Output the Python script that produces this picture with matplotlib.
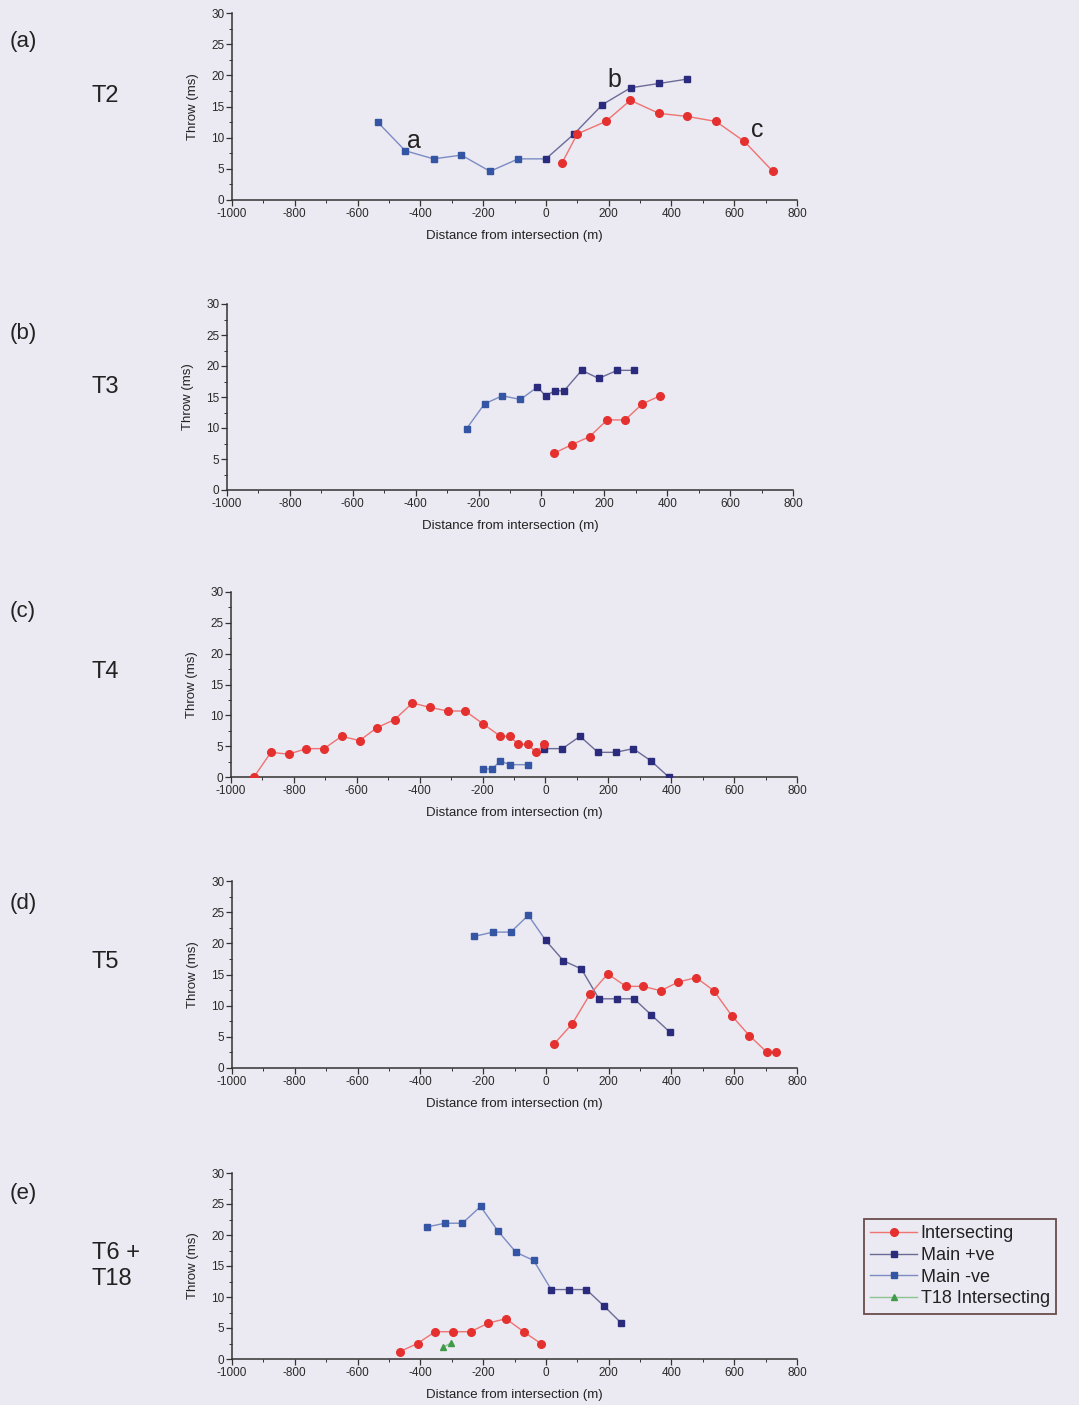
"""
Fault throw vs distance from intersection, panels (a)-(e)
"""
import matplotlib
matplotlib.use('Agg')
import matplotlib.pyplot as plt
from matplotlib.lines import Line2D
from matplotlib.ticker import MultipleLocator

plt.rcParams['font.family'] = ['Liberation Sans', 'DejaVu Sans']
plt.rcParams['axes.unicode_minus'] = False

# ── Data (distance m, throw ms) ─────────────────────────────────
# (a) T2
a_neg_x = [-536, -448, -358, -269, -178, -88]
a_neg_y = [12.5, 7.9, 6.6, 7.2, 4.6, 6.6]
a_pos_x = [0, 90, 180, 270, 361, 451]
a_pos_y = [6.6, 10.6, 15.3, 18.0, 18.7, 19.4]
a_int_x = [51, 100, 191, 269, 360, 451, 542, 632, 723]
a_int_y = [5.9, 10.6, 12.6, 16.0, 13.9, 13.4, 12.6, 9.4, 4.6]

# (b) T3
b_neg_x = [-238, -181, -124, -67]
b_neg_y = [9.9, 13.9, 15.2, 14.6]
b_pos_x = [-13, 13, 43, 72, 128, 182, 241, 295]
b_pos_y = [16.6, 15.2, 16.0, 16.0, 19.3, 18.0, 19.3, 19.3]
b_int_x = [39, 96, 153, 209, 266, 321, 378]
b_int_y = [5.9, 7.3, 8.6, 11.3, 11.3, 13.9, 15.2]

# (c) T4
c_neg_x = [-198, -170, -143, -114, -57]
c_neg_y = [1.3, 1.3, 2.6, 2.0, 2.0]
c_pos_x = [-4, 54, 110, 167, 223, 279, 336, 392]
c_pos_y = [4.6, 4.6, 6.6, 4.0, 4.0, 4.6, 2.6, 0.0]
c_int_x = [-927, -873, -817, -760, -704, -648, -591, -536, -480, -423,
           -368, -311, -255, -198, -143, -114, -86, -57, -30, -4]
c_int_y = [0.0, 4.0, 3.7, 4.6, 4.6, 6.6, 5.9, 8.0, 9.3, 12.0,
           11.3, 10.7, 10.7, 8.6, 6.6, 6.6, 5.3, 5.3, 4.0, 5.3]

# (d) T5
d_neg_x = [-229, -169, -112, -56]
d_neg_y = [21.1, 21.8, 21.8, 24.5]
d_pos_x = [-1, 56, 113, 169, 226, 281, 336, 394]
d_pos_y = [20.5, 17.2, 15.9, 11.1, 11.1, 11.1, 8.5, 5.8]
d_int_x = [27, 84, 140, 197, 255, 309, 366, 422, 479, 535, 592, 648, 705, 732]
d_int_y = [3.9, 7.1, 11.8, 15.1, 13.1, 13.1, 12.4, 13.8, 14.5, 12.4, 8.4, 5.2, 2.5, 2.5]

# (e) T6 + T18
e_neg_x = [-379, -321, -266, -208, -152, -95, -39]
e_neg_y = [21.3, 21.9, 21.9, 24.6, 20.6, 17.2, 15.9]
e_pos_x = [17, 73, 129, 186, 240]
e_pos_y = [11.2, 11.2, 11.2, 8.5, 5.8]
e_int_x = [-465, -409, -353, -297, -240, -183, -127, -71, -16]
e_int_y = [1.2, 2.5, 4.4, 4.4, 4.4, 5.8, 6.5, 4.4, 2.5]
e_t18_x = [-327, -301]
e_t18_y = [1.9, 2.6]

panels = [
    ('(a)', 'T2', a_neg_x, a_neg_y, a_pos_x, a_pos_y, a_int_x, a_int_y, True),
    ('(b)', 'T3', b_neg_x, b_neg_y, b_pos_x, b_pos_y, b_int_x, b_int_y, True),
    ('(c)', 'T4', c_neg_x, c_neg_y, c_pos_x, c_pos_y, c_int_x, c_int_y, False),
    ('(d)', 'T5', d_neg_x, d_neg_y, d_pos_x, d_pos_y, d_int_x, d_int_y, True),
    ('(e)', 'T6 +\nT18', e_neg_x, e_neg_y, e_pos_x, e_pos_y, e_int_x, e_int_y, True),
]

# ── Style ───────────────────────────────────────────────────────
BG       = '#ebe9f1'
AXIS     = '#333333'
RED      = '#e4312f'
RED_LN   = '#f07272'
NAVY     = '#2b2b7e'
NAVY_LN  = '#6b6b98'
BLUE     = '#3454a4'
BLUE_LN  = '#7b8cc4'
GREEN    = '#3f9a4a'
GREEN_LN = '#8cc48f'

W, H = 1079, 1405
fig = plt.figure(figsize=(W / 100, H / 100), dpi=100, facecolor=BG)

# axes boxes in pixels: left, right, y of 0, y of 30
boxes = [(232, 797, 200, 13), (227, 793, 490, 304), (231, 797, 777, 592),
         (232, 797, 1068, 881), (232, 797, 1359, 1173)]
panel_lab_y = [42, 333, 612, 903, 1194]
name_y = [96, 387, 672, 962, 1266]

axes = []
for (lab, name, nx, ny, px, py, ix, iy, join), (l, r, y0, y30), ly, ty in zip(
        panels, boxes, panel_lab_y, name_y):
    ax = fig.add_axes([l / W, 1 - y0 / H, (r - l) / W, (y0 - y30) / H])
    ax.set_facecolor('none')
    ax.set_xlim(-1000, 800)
    ax.set_ylim(0, 30)
    for s in ['top', 'right']:
        ax.spines[s].set_visible(False)
    for s in ['left', 'bottom']:
        ax.spines[s].set_color(AXIS)
        ax.spines[s].set_linewidth(1.1)
    ax.xaxis.set_major_locator(MultipleLocator(200))
    ax.xaxis.set_minor_locator(MultipleLocator(100))
    ax.yaxis.set_major_locator(MultipleLocator(5))
    ax.yaxis.set_minor_locator(MultipleLocator(2.5))
    ax.tick_params(which='major', length=4, width=0.9, color=AXIS,
                   labelsize=8.5, labelcolor='#2a2a2a', pad=1.5)
    ax.tick_params(which='minor', length=2, width=0.7, color=AXIS)
    ax.set_xlabel('Distance from intersection (m)', fontsize=9.5, color='#222222')
    ax.set_ylabel('Throw (ms)', fontsize=9.5, color='#222222')
    ax.xaxis.set_label_coords(0.5, -30 / (y0 - y30))
    ax.yaxis.set_label_coords(-33 / (r - l), 0.5)

    # main fault, -ve then +ve side
    if join:
        ax.plot(nx + [px[0]], ny + [py[0]], color=BLUE_LN, lw=1.0, zorder=2)
    else:
        ax.plot(nx, ny, color=BLUE_LN, lw=1.0, zorder=2)
    ax.plot(nx, ny, ls='none', marker='s', ms=5, color=BLUE, zorder=3)
    ax.plot(px, py, color=NAVY_LN, lw=1.0, marker='s', ms=5,
            markerfacecolor=NAVY, markeredgecolor=NAVY, zorder=3)
    # intersecting fault
    ax.plot(ix, iy, color=RED_LN, lw=1.0, marker='o', ms=5.5,
            markerfacecolor=RED, markeredgecolor=RED, zorder=4)

    fig.text(10 / W, 1 - ly / H, lab, fontsize=16, color='#222222',
             ha='left', va='center')
    fig.text(92 / W, 1 - ty / H, name, fontsize=17, color='#222222',
             ha='left', va='center', linespacing=1.2)
    axes.append(ax)

# T18 intersecting (panel e)
axes[4].plot(e_t18_x, e_t18_y, color=GREEN_LN, lw=1.0, marker='^', ms=5,
             markerfacecolor=GREEN, markeredgecolor=GREEN, zorder=5)

# a, b, c markers on panel (a)
axes[0].text(-420, 9.5, 'a', fontsize=18, color='#222222', ha='center', va='center')
axes[0].text(217, 19.3, 'b', fontsize=18, color='#222222', ha='center', va='center')
axes[0].text(672, 11.2, 'c', fontsize=18, color='#222222', ha='center', va='center')

# legend
handles = [
    Line2D([], [], color=RED_LN, lw=1.0, marker='o', ms=5.5,
           markerfacecolor=RED, markeredgecolor=RED),
    Line2D([], [], color=NAVY_LN, lw=1.0, marker='s', ms=5,
           markerfacecolor=NAVY, markeredgecolor=NAVY),
    Line2D([], [], color=BLUE_LN, lw=1.0, marker='s', ms=5,
           markerfacecolor=BLUE, markeredgecolor=BLUE),
    Line2D([], [], color=GREEN_LN, lw=1.0, marker='^', ms=5,
           markerfacecolor=GREEN, markeredgecolor=GREEN),
]
labels = ['Intersecting', 'Main +ve', 'Main -ve', 'T18 Intersecting']
leg = fig.legend(handles, labels, loc='upper left',
                 bbox_to_anchor=(864 / W, 1 - 1219 / H),
                 fontsize=13, frameon=True, fancybox=False,
                 handlelength=2.6, handletextpad=0.2, labelspacing=0.26,
                 borderpad=0.35, borderaxespad=0)
leg.get_frame().set_edgecolor('#4a2525')
leg.get_frame().set_linewidth(1.3)
leg.get_frame().set_facecolor(BG)
for t in leg.get_texts():
    t.set_color('#222222')

plt.savefig('out.png', dpi=100, facecolor=BG)
